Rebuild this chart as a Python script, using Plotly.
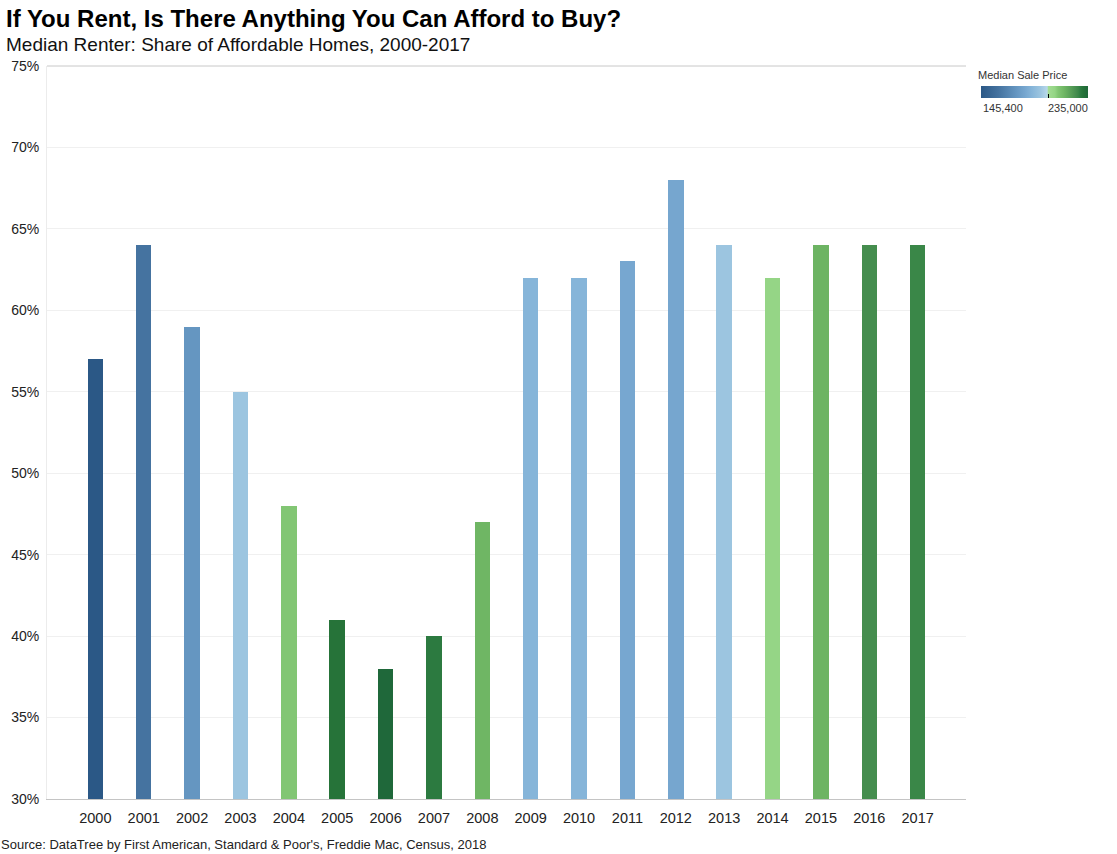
import plotly.graph_objects as go

years = ["2000", "2001", "2002", "2003", "2004", "2005", "2006", "2007", "2008",
         "2009", "2010", "2011", "2012", "2013", "2014", "2015", "2016", "2017"]
share = [57, 64, 59, 55, 48, 41, 38, 40, 47, 62, 62, 63, 68, 64, 62, 64, 64, 64]
median_price = [145400, 160000, 175000, 195000, 210000, 231000, 235000, 229000, 215000,
                188000, 188000, 182500, 182000, 195000, 207000, 215500, 225000, 227000]
y_ticks = [30, 35, 40, 45, 50, 55, 60, 65, 70, 75]
price_min, price_max = 145400, 235000

colorscale = [
    [0.0, "#2b5886"], [0.16, "#44729f"], [0.33, "#6596c1"], [0.41, "#76a6cf"],
    [0.475, "#86b5d9"], [0.555, "#9cc5e0"], [0.62, "#b8d8ea"], [0.625, "#a4dc94"],
    [0.69, "#94d585"], [0.72, "#82c674"], [0.777, "#6fb664"], [0.889, "#458d4e"],
    [0.91, "#3a8748"], [0.933, "#2c7a40"], [0.955, "#267339"], [1.0, "#1f683a"],
]

FONT = "Liberation Sans, Arial, sans-serif"
L, R, T, B = 47, 966, 66, 799
W, H = 1117, 854
PW, PH = R - L, B - T


def px_x(x):
    return (x - L) / PW


def px_y(y):
    return (B - y) / PH


CB_LEFT, CB_LEN, CB_TOP = 981, 107, 86

fig = go.Figure()
fig.add_trace(go.Bar(
    x=years, y=share, width=0.32,
    marker=dict(
        color=median_price, colorscale=colorscale, cmin=price_min, cmax=price_max,
        line=dict(width=0),
        colorbar=dict(
            orientation="h", xanchor="left", x=px_x(CB_LEFT), yanchor="top", y=px_y(CB_TOP),
            lenmode="pixels", len=CB_LEN, thickness=12, outlinewidth=0,
            title=dict(text=""),
            tickvals=[202000], ticktext=[""], ticks="inside", ticklen=4,
            tickcolor="#000000", xpad=0, ypad=0,
        ),
    ),
    hovertemplate="%{x}: %{y}%<extra></extra>",
))

fig.update_layout(
    width=W, height=H,
    margin=dict(l=L, r=W - R, t=T, b=H - B, autoexpand=False),
    plot_bgcolor="white", paper_bgcolor="white",
    font=dict(family=FONT, color="#222222"),
    showlegend=False,
    bargap=0,
    xaxis=dict(
        type="category", range=[-1, 18], showgrid=False, zeroline=False,
        showline=True, linecolor="#c4c4c4", linewidth=1, automargin=False,
        tickfont=dict(size=14.5, color="#222222"), ticks="", ticklabelstandoff=6,
    ),
    yaxis=dict(
        range=[30, 75], tickvals=y_ticks, ticktext=[f"{v}%" for v in y_ticks],
        showgrid=True, gridcolor="#f0f0f0", gridwidth=1, zeroline=False,
        showline=True, linecolor="#ececec", linewidth=1, mirror=False, automargin=False,
        tickfont=dict(size=14, color="#222222"), ticks="", ticklabelstandoff=4,
    ),
    shapes=[dict(type="line", xref="paper", yref="paper", x0=0, x1=1, y0=1, y1=1,
                 line=dict(color="#c8c8c8", width=1))],
    annotations=[
        dict(text="<b>If You Rent, Is There Anything You Can Afford to Buy?</b>",
             xref="paper", yref="paper", x=px_x(4), y=px_y(18), xanchor="left", yanchor="middle",
             showarrow=False, font=dict(family=FONT, size=24, color="#000000")),
        dict(text="Median Renter: Share of Affordable Homes, 2000-2017",
             xref="paper", yref="paper", x=px_x(4), y=px_y(45), xanchor="left", yanchor="middle",
             showarrow=False, font=dict(family=FONT, size=19, color="#111111")),
        dict(text="Source: DataTree by First American, Standard & Poor's, Freddie Mac, Census, 2018",
             xref="paper", yref="paper", x=px_x(-1), y=px_y(844), xanchor="left", yanchor="middle",
             showarrow=False, font=dict(family=FONT, size=13, color="#222222")),
        dict(text="Median Sale Price", xref="paper", yref="paper", x=px_x(976), y=px_y(75),
             xanchor="left", yanchor="middle", showarrow=False,
             font=dict(family=FONT, size=11, color="#333333")),
        dict(text="145,400", xref="paper", yref="paper", x=px_x(CB_LEFT), y=px_y(108),
             xanchor="left", yanchor="middle", showarrow=False,
             font=dict(family=FONT, size=11, color="#333333")),
        dict(text="235,000", xref="paper", yref="paper", x=px_x(CB_LEFT + CB_LEN + 2), y=px_y(108),
             xanchor="right", yanchor="middle", showarrow=False,
             font=dict(family=FONT, size=11, color="#333333")),
    ],
)

fig.write_html("out.html", config={"displayModeBar": False},
               post_script="document.body.style.margin='0';document.body.style.overflow='hidden';")
